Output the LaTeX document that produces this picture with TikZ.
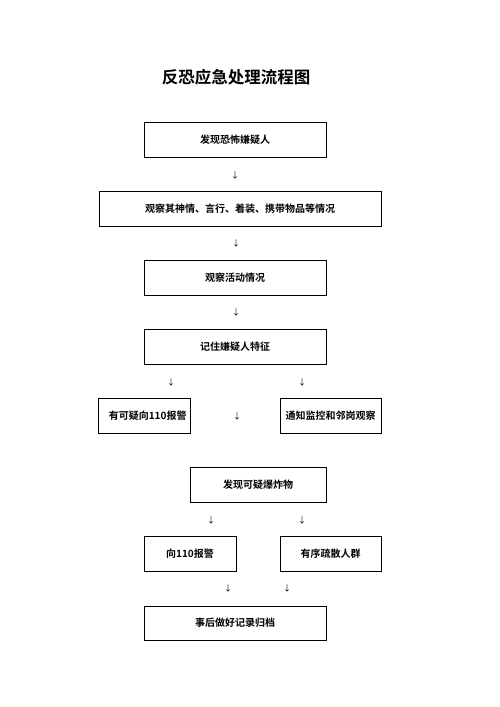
\documentclass[tikz,border=0pt]{standalone}
\usepackage{fontspec}
\setmainfont{Noto Sans CJK SC}[BoldFont={Noto Sans CJK SC Bold}]
\tikzset{
  box/.style={draw, line width=0.9pt, minimum height=35pt, inner sep=0pt, font=\fontsize{10}{12}\selectfont\bfseries},
  arr/.style={inner sep=0pt, font=\fontsize{8}{8}\selectfont},
}
\begin{document}
\begin{tikzpicture}[x=1pt,y=-1pt]
\useasboundingbox (0,0) rectangle (500,707);
\node[font=\fontsize{16.5}{18}\selectfont\bfseries] (title) at (236,77) {反恐应急处理流程图};
\node[box, minimum width=182pt] (b1) at (235,139.5) {发现恐怖嫌疑人};
\node[arr] (a1) at (235,175) {↓};
\node[box, minimum width=282pt] (b2) at (240,208.5) {观察其神情、言行、着装、携带物品等情况};
\node[arr] (a2) at (236,243) {↓};
\node[box, minimum width=182pt] (b3) at (235,277.5) {观察活动情况};
\node[arr] (a3) at (236,312) {↓};
\node[box, minimum width=182pt] (b4) at (235,346.5) {记住嫌疑人特征};
\node[arr] (a4) at (171,382) {↓};
\node[arr] (a5) at (302,382) {↓};
\node[box, text width=85pt, inner xsep=3.5pt, align=right] (b5) at (144,415.5) {有可疑向110报警};
\node[arr] (a6) at (237,416) {↓};
\node[box, minimum width=101pt] (b6) at (330.5,415.5) {通知监控和邻岗观察};
\node[box, minimum width=136pt] (b7) at (258,484.5) {发现可疑爆炸物};
\node[arr] (a7) at (211,520) {↓};
\node[arr] (a8) at (302,520) {↓};
\node[box, minimum width=92pt] (b8) at (190,553.5) {向110报警};
\node[box, minimum width=101pt] (b9) at (330.5,553.5) {有序疏散人群};
\node[arr] (a9) at (228,588) {↓};
\node[arr] (a10) at (287,588) {↓};
\node[box, minimum width=182pt, minimum height=34pt] (b10) at (235,623) {事后做好记录归档};
\end{tikzpicture}
\end{document}
